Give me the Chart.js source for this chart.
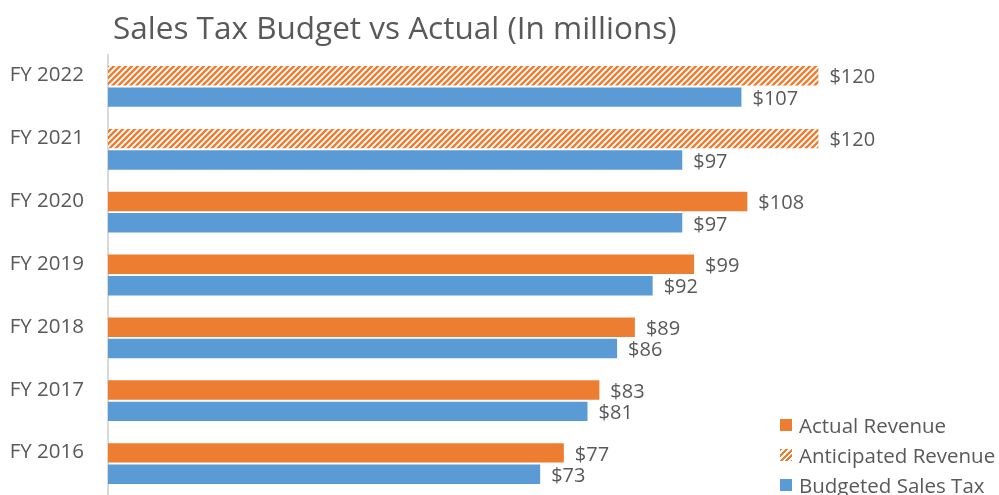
<!DOCTYPE html>
<html>
<head>
<meta charset="utf-8">
<title>Sales Tax Budget vs Actual</title>
<script src="https://cdn.jsdelivr.net/npm/chart.js@4/dist/chart.umd.min.js"></script>
<style>
    html, body {
        margin: 0;
        padding: 0;
        background: #ffffff;
    }
    #wrap {
        position: relative;
        width: 999px;
        height: 495px;
        font-family: "Open Sans", sans-serif;
        color: #595959;
    }
    #salesTaxChart {
        display: block;
    }
    #chartTitle {
        position: absolute;
        left: 113px;
        top: 5px;
        font-size: 31.5px;
        white-space: nowrap;
    }
    #legend {
        position: absolute;
        left: 780px;
        top: 410px;
        font-size: 20.5px;
        line-height: 30px;
    }
    #legend .item {
        display: flex;
        align-items: center;
        white-space: nowrap;
    }
    #legend .swatch {
        width: 12px;
        height: 12px;
        margin-right: 7px;
    }
</style>
</head>
<body>
<div id="wrap">
    <canvas id="salesTaxChart" width="999" height="495"></canvas>
    <div id="chartTitle">Sales Tax Budget vs Actual (In millions)</div>
    <div id="legend"></div>
</div>
<script>
// 分类与数值
const fiscalYears = ['FY 2022', 'FY 2021', 'FY 2020', 'FY 2019', 'FY 2018', 'FY 2017', 'FY 2016'];
const actualRevenue = [null, null, 108, 99, 89, 83, 77];
const anticipatedRevenue = [120, 120, null, null, null, null, null];
const budgetedSalesTax = [107, 97, 97, 92, 86, 81, 73];

const ORANGE = '#ED7D31';
const BLUE = '#5B9BD5';
const TEXT_GRAY = '#595959';

let salesTaxChart = null;

/**
 * 生成斜线填充图案
 * @returns {CanvasPattern}
 */
function makeHatchPattern() {
    const size = 6;
    const tile = document.createElement('canvas');
    tile.width = size;
    tile.height = size;
    const c = tile.getContext('2d');
    c.fillStyle = '#ffffff';
    c.fillRect(0, 0, size, size);
    c.strokeStyle = ORANGE;
    c.lineWidth = 2.4;
    c.beginPath();
    // 主斜线加两角，保证平铺连续
    c.moveTo(-1, size + 1);
    c.lineTo(size + 1, -1);
    c.moveTo(-1, 1);
    c.lineTo(1, -1);
    c.moveTo(size - 1, size + 1);
    c.lineTo(size + 1, size - 1);
    c.stroke();
    return c.createPattern(tile, 'repeat');
}

/**
 * 柱子末端的数值标签
 */
const valueLabelPlugin = {
    id: 'valueLabels',
    afterDatasetsDraw(chart) {
        const ctx = chart.ctx;
        ctx.save();
        ctx.font = '20px "Open Sans", sans-serif';
        ctx.fillStyle = TEXT_GRAY;
        ctx.textAlign = 'left';
        ctx.textBaseline = 'middle';
        chart.data.datasets.forEach((ds, i) => {
            const meta = chart.getDatasetMeta(i);
            meta.data.forEach((bar, j) => {
                const v = ds.data[j];
                if (v === null || v === undefined) return;
                ctx.fillText('$' + v, bar.x + 11, bar.y + 2);
            });
        });
        ctx.restore();
    }
};

/**
 * 绘制图例
 * @param {array} items - 图例项
 */
function buildLegend(items) {
    const legend = document.getElementById('legend');
    legend.innerHTML = '';
    items.forEach(item => {
        const row = document.createElement('div');
        row.className = 'item';
        const sw = document.createElement('span');
        sw.className = 'swatch';
        sw.style.background = item.fill;
        const label = document.createElement('span');
        label.textContent = item.text;
        row.appendChild(sw);
        row.appendChild(label);
        legend.appendChild(row);
    });
}

/**
 * 创建预算与实际对比图表
 */
function createSalesTaxChart() {
    const ctx = document.getElementById('salesTaxChart');
    if (salesTaxChart) {
        salesTaxChart.destroy();
    }

    const hatch = makeHatchPattern();

    salesTaxChart = new Chart(ctx, {
        type: 'bar',
        data: {
            labels: fiscalYears,
            datasets: [
                {
                    label: 'Actual Revenue',
                    data: actualRevenue,
                    backgroundColor: ORANGE,
                    stack: 'revenue'
                },
                {
                    label: 'Anticipated Revenue',
                    data: anticipatedRevenue,
                    backgroundColor: hatch,
                    stack: 'revenue'
                },
                {
                    label: 'Budgeted Sales Tax',
                    data: budgetedSalesTax,
                    backgroundColor: BLUE,
                    stack: 'budget'
                }
            ]
        },
        options: {
            indexAxis: 'y',
            responsive: false,
            animation: false,
            layout: {
                padding: { top: 55, right: 3, bottom: 0, left: 0 }
            },
            datasets: {
                bar: {
                    categoryPercentage: 0.68,
                    barPercentage: 0.91
                }
            },
            plugins: {
                legend: { display: false },
                title: { display: false },
                tooltip: { enabled: false }
            },
            scales: {
                x: {
                    stacked: true,
                    min: 0,
                    max: 150,
                    display: false
                },
                y: {
                    stacked: true,
                    afterFit(scale) {
                        // 固定轴宽，去掉为首尾标签预留的上下空白
                        scale.width = 108;
                        scale.paddingTop = 0;
                        scale.paddingBottom = 0;
                    },
                    grid: {
                        display: false,
                        drawTicks: false
                    },
                    border: {
                        display: true,
                        color: '#D9D9D9',
                        width: 2
                    },
                    ticks: {
                        color: TEXT_GRAY,
                        padding: 24,
                        labelOffset: -11,
                        font: { family: '"Open Sans", sans-serif', size: 20.5 }
                    }
                }
            }
        },
        plugins: [valueLabelPlugin]
    });
}

createSalesTaxChart();
buildLegend([
    { text: 'Actual Revenue', fill: ORANGE },
    { text: 'Anticipated Revenue', fill: 'repeating-linear-gradient(135deg, ' + ORANGE + ' 0 2px, #ffffff 2px 4px)' },
    { text: 'Budgeted Sales Tax', fill: BLUE }
]);
</script>
</body>
</html>
